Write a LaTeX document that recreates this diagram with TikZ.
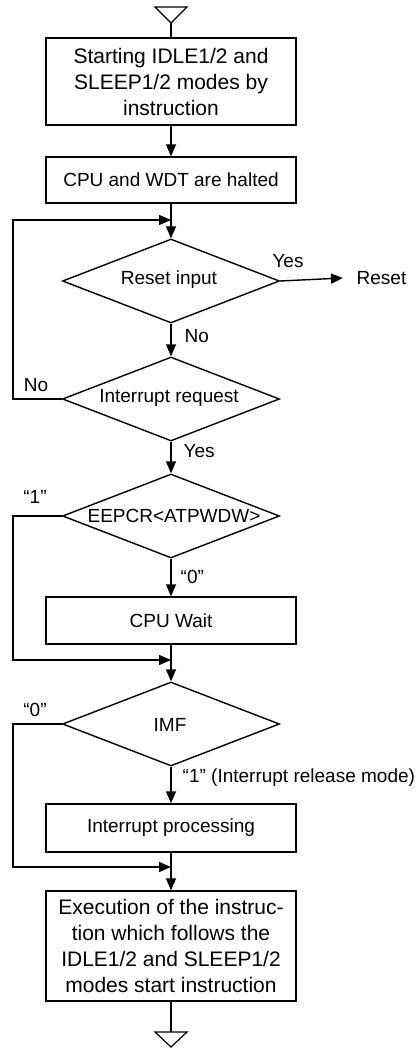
\documentclass[tikz,border=0pt]{standalone}
\usepackage{fontspec}
\setmainfont{Liberation Sans}
\usetikzlibrary{arrows.meta,shapes.geometric}
\begin{document}
\begin{tikzpicture}[x=1pt,y=-1pt, line width=1.4pt,
  box/.style={draw, minimum width=250pt, inner sep=0pt, align=center, font=\fontsize{19}{26}\selectfont},
  bigtxt/.style={font=\fontsize{21}{26}\selectfont},
  dia/.style={draw, diamond, minimum width=217pt, minimum height=84pt, inner sep=0pt},
  lbl/.style={inner sep=0pt, font=\fontsize{19}{23}\selectfont},
  arr/.style={-{Triangle[length=12pt,width=10pt]}}]
\useasboundingbox (0,0) rectangle (418,1048);
% nodes
\node[box, minimum height=87pt, bigtxt] (b1) at (171,81.5) {Starting IDLE1/2 and\\SLEEP1/2 modes by\\instruction};
\node[box, minimum height=46pt] (b2) at (171,180) {CPU and WDT are halted};
\node[dia] (d1) at (171,281) {};
\node[lbl] (d1t) at (169,280) {Reset input};
\node[dia] (d2) at (171,399) {};
\node[lbl] (d2t) at (169,398) {Interrupt request};
\node[dia] (d3) at (171,516) {};
\node[lbl] (d3t) at (174,516) {EEPCR<ATPWDW>};
\node[box, minimum height=47pt] (b3) at (171,620.5) {CPU Wait};
\node[dia] (d4) at (171,724) {};
\node[lbl] (d4t) at (170,725) {IMF};
\node[box, minimum height=48pt] (b4) at (171,828) {Interrupt processing};
\node[box, minimum height=110pt, bigtxt] (b5) at (171,946) {Execution of the instruc-\\tion which follows the\\IDLE1/2 and SLEEP1/2\\modes start instruction};
\node[lbl, anchor=west, inner xsep=13pt] (rst) at (343,278) {Reset};
% labels
\node[lbl] (yes1) at (288,261) {Yes};
\node[lbl, anchor=west] (no1) at (184,336) {No};
\node[lbl] (no2) at (36,385) {No};
\node[lbl, anchor=west] (yes2) at (183,451) {Yes};
\node[lbl] (q1a) at (35,497) {“1”};
\node[lbl, anchor=west] (q0a) at (180,577) {“0”};
\node[lbl] (q0b) at (35,710) {“0”};
\node[lbl, anchor=west] (q1b) at (182,778) {“1” (Interrupt release mode)};
% junctions and corners
\coordinate (j1) at (171,220);
\coordinate (j2) at (171,660);
\coordinate (j3) at (171,867);
\coordinate (l1) at (13,399);
\coordinate (l2) at (13,516);
\coordinate (l3) at (13,724);
% terminal triangles
\coordinate (ttop) at (171,23);
\coordinate (tbot) at (171,1032);
\draw[line width=1.2pt] (ttop) -- (155,7) -- (187,7) -- cycle;
\draw[line width=1.2pt] (tbot) -- (155,1032) -- (171,1047) -- (187,1032) -- cycle;
% connectors
\draw (ttop) -- (b1.north);
\draw[arr] (b1.south) -- (b2.north);
\draw[arr] (b2.south) -- (d1.north);
\draw[arr] (d1.east) -- (rst.west);
\draw[arr] (d1.south) -- (d2.north);
\draw[arr] (d2.west) -- (l1) |- (j1);
\draw[arr] (d2.south) -- (d3.north);
\draw[arr] (d3.south) -- (b3.north);
\draw[arr] (b3.south) -- (d4.north);
\draw[arr] (d3.west) -- (l2) |- (j2);
\draw[arr] (d4.south) -- (b4.north);
\draw[arr] (b4.south) -- (b5.north);
\draw[arr] (d4.west) -- (l3) |- (j3);
\draw (b5.south) -- (tbot);
\end{tikzpicture}
\end{document}
